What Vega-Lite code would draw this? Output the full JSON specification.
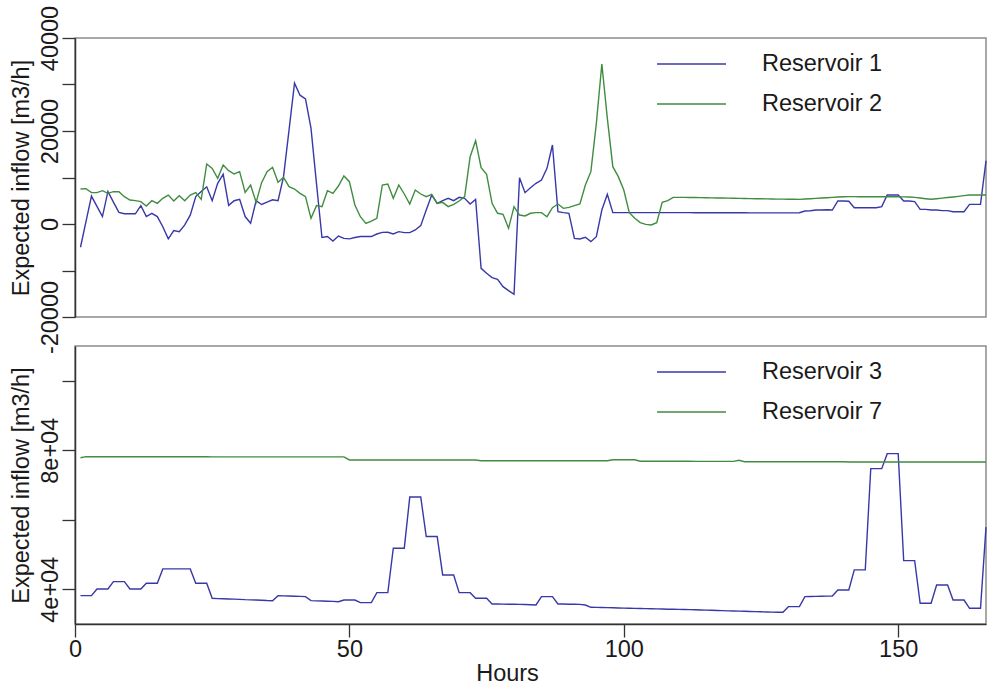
{
"$schema": "https://vega.github.io/schema/vega-lite/v6.json",
"background": "white",
"padding": {"left": 8, "top": 4, "right": 0, "bottom": 0},
"config": {
  "font": "Liberation Sans",
  "view": {"stroke": "#8c8c8c", "strokeWidth": 1.5},
  "axis": {"grid": false, "domainColor": "#333333", "tickColor": "#333333", "domainWidth": 1.5, "tickWidth": 1.3, "tickSize": 13, "labelFontSize": 23.5, "titleFontSize": 23.5, "labelColor": "#1a1a1a", "titleColor": "#1a1a1a", "titleFontWeight": "normal", "labelOverlap": false},
  "legend": {"orient": "none", "legendX": 581, "legendY": 6, "title": null, "symbolType": "stroke", "symbolSize": 4761, "symbolStrokeWidth": 1.4, "labelFontSize": 23.5, "labelOffset": 35, "labelColor": "#1a1a1a", "padding": 0, "rowPadding": 0, "clipHeight": 40, "labelLimit": 400}
},
"datasets": {
"r1": [{"h":1,"v":-5000},{"h":2,"v":500},{"h":3,"v":6000},{"h":4,"v":3800},{"h":5,"v":1600},{"h":6,"v":7000},{"h":7,"v":4700},{"h":8,"v":2500},{"h":9,"v":2200},{"h":10,"v":2200},{"h":11,"v":2200},{"h":12,"v":3950},{"h":13,"v":1600},{"h":14,"v":2300},{"h":15,"v":1600},{"h":16,"v":-600},{"h":17,"v":-3200},{"h":18,"v":-1400},{"h":19,"v":-1650},{"h":20,"v":-200},{"h":21,"v":1900},{"h":22,"v":5900},{"h":23,"v":7000},{"h":24,"v":8000},{"h":25,"v":5000},{"h":26,"v":8750},{"h":27,"v":10700},{"h":28,"v":4000},{"h":29,"v":5000},{"h":30,"v":5300},{"h":31,"v":1600},{"h":32,"v":150},{"h":33,"v":5000},{"h":34,"v":4200},{"h":35,"v":4700},{"h":36,"v":5200},{"h":37,"v":5000},{"h":38,"v":10200},{"h":39,"v":20200},{"h":40,"v":30300},{"h":41,"v":27700},{"h":42,"v":26900},{"h":43,"v":20600},{"h":44,"v":8750},{"h":45,"v":-2900},{"h":46,"v":-2700},{"h":47,"v":-3650},{"h":48,"v":-2600},{"h":49,"v":-3100},{"h":50,"v":-3200},{"h":51,"v":-2900},{"h":52,"v":-2700},{"h":53,"v":-2700},{"h":54,"v":-2700},{"h":55,"v":-2150},{"h":56,"v":-1800},{"h":57,"v":-1790},{"h":58,"v":-2150},{"h":59,"v":-1650},{"h":60,"v":-1860},{"h":61,"v":-1860},{"h":62,"v":-1290},{"h":63,"v":-360},{"h":64,"v":3000},{"h":65,"v":6230},{"h":66,"v":4440},{"h":67,"v":5020},{"h":68,"v":5520},{"h":69,"v":5020},{"h":70,"v":5730},{"h":71,"v":5520},{"h":72,"v":4300},{"h":73,"v":5300},{"h":74,"v":-9530},{"h":75,"v":-10600},{"h":76,"v":-11540},{"h":77,"v":-11900},{"h":78,"v":-13480},{"h":79,"v":-14340},{"h":80,"v":-15120},{"h":81,"v":9960},{"h":82,"v":6740},{"h":83,"v":7800},{"h":84,"v":8750},{"h":85,"v":9460},{"h":86,"v":11970},{"h":87,"v":16990},{"h":88,"v":2650},{"h":89,"v":2440},{"h":90,"v":2300},{"h":91,"v":-3080},{"h":92,"v":-3220},{"h":93,"v":-2860},{"h":94,"v":-3800},{"h":95,"v":-2720},{"h":96,"v":3000},{"h":97,"v":6370},{"h":98,"v":2440},{"h":99,"v":2440},{"h":100,"v":2440},{"h":101,"v":2440},{"h":102,"v":2440},{"h":103,"v":2440},{"h":104,"v":2440},{"h":105,"v":2440},{"h":106,"v":2440},{"h":107,"v":2440},{"h":108,"v":2440},{"h":109,"v":2440},{"h":110,"v":2440},{"h":111,"v":2440},{"h":112,"v":2440},{"h":113,"v":2430},{"h":114,"v":2430},{"h":115,"v":2430},{"h":116,"v":2420},{"h":117,"v":2420},{"h":118,"v":2420},{"h":119,"v":2420},{"h":120,"v":2410},{"h":121,"v":2410},{"h":122,"v":2410},{"h":123,"v":2400},{"h":124,"v":2400},{"h":125,"v":2400},{"h":126,"v":2400},{"h":127,"v":2400},{"h":128,"v":2400},{"h":129,"v":2400},{"h":130,"v":2400},{"h":131,"v":2400},{"h":132,"v":2420},{"h":133,"v":2800},{"h":134,"v":2850},{"h":135,"v":3010},{"h":136,"v":3010},{"h":137,"v":3050},{"h":138,"v":3000},{"h":139,"v":4950},{"h":140,"v":4950},{"h":141,"v":4900},{"h":142,"v":3510},{"h":143,"v":3510},{"h":144,"v":3510},{"h":145,"v":3510},{"h":146,"v":3510},{"h":147,"v":3730},{"h":148,"v":6230},{"h":149,"v":6230},{"h":150,"v":6230},{"h":151,"v":4950},{"h":152,"v":4950},{"h":153,"v":4800},{"h":154,"v":3150},{"h":155,"v":3150},{"h":156,"v":3010},{"h":157,"v":3010},{"h":158,"v":2870},{"h":159,"v":2870},{"h":160,"v":2650},{"h":161,"v":2650},{"h":162,"v":2650},{"h":163,"v":4230},{"h":164,"v":4230},{"h":165,"v":4230},{"h":166,"v":13610}],
"r2": [{"h":1,"v":7520},{"h":2,"v":7600},{"h":3,"v":6740},{"h":4,"v":6740},{"h":5,"v":7170},{"h":6,"v":6600},{"h":7,"v":6950},{"h":8,"v":6950},{"h":9,"v":5880},{"h":10,"v":5160},{"h":11,"v":5020},{"h":12,"v":4800},{"h":13,"v":3870},{"h":14,"v":5020},{"h":15,"v":4440},{"h":16,"v":5520},{"h":17,"v":6230},{"h":18,"v":4950},{"h":19,"v":6090},{"h":20,"v":5020},{"h":21,"v":6230},{"h":22,"v":6740},{"h":23,"v":5300},{"h":24,"v":12900},{"h":25,"v":11970},{"h":26,"v":9820},{"h":27,"v":12690},{"h":28,"v":11470},{"h":29,"v":10750},{"h":30,"v":11250},{"h":31,"v":6810},{"h":32,"v":8390},{"h":33,"v":4660},{"h":34,"v":8890},{"h":35,"v":11250},{"h":36,"v":12190},{"h":37,"v":8960},{"h":38,"v":10040},{"h":39,"v":8020},{"h":40,"v":7520},{"h":41,"v":6600},{"h":42,"v":5880},{"h":43,"v":1220},{"h":44,"v":3950},{"h":45,"v":3730},{"h":46,"v":7170},{"h":47,"v":6600},{"h":48,"v":8170},{"h":49,"v":10320},{"h":50,"v":9100},{"h":51,"v":4090},{"h":52,"v":1570},{"h":53,"v":140},{"h":54,"v":640},{"h":55,"v":1220},{"h":56,"v":8390},{"h":57,"v":8600},{"h":58,"v":5520},{"h":59,"v":8390},{"h":60,"v":6450},{"h":61,"v":4300},{"h":62,"v":7310},{"h":63,"v":6450},{"h":64,"v":5880},{"h":65,"v":6380},{"h":66,"v":4440},{"h":67,"v":4660},{"h":68,"v":3730},{"h":69,"v":4230},{"h":70,"v":4950},{"h":71,"v":5880},{"h":72,"v":14480},{"h":73,"v":17920},{"h":74,"v":12120},{"h":75,"v":10680},{"h":76,"v":4440},{"h":77,"v":2300},{"h":78,"v":2080},{"h":79,"v":-930},{"h":80,"v":3730},{"h":81,"v":1930},{"h":82,"v":1720},{"h":83,"v":2300},{"h":84,"v":2440},{"h":85,"v":2440},{"h":86,"v":1570},{"h":87,"v":3510},{"h":88,"v":4300},{"h":89,"v":3370},{"h":90,"v":3580},{"h":91,"v":3950},{"h":92,"v":4300},{"h":93,"v":8390},{"h":94,"v":11250},{"h":95,"v":21640},{"h":96,"v":34400},{"h":97,"v":22700},{"h":98,"v":12330},{"h":99,"v":10180},{"h":100,"v":7310},{"h":101,"v":2440},{"h":102,"v":1220},{"h":103,"v":290},{"h":104,"v":-70},{"h":105,"v":-215},{"h":106,"v":290},{"h":107,"v":4660},{"h":108,"v":5020},{"h":109,"v":5730},{"h":110,"v":5730},{"h":111,"v":5720},{"h":112,"v":5710},{"h":113,"v":5690},{"h":114,"v":5670},{"h":115,"v":5650},{"h":116,"v":5620},{"h":117,"v":5600},{"h":118,"v":5580},{"h":119,"v":5560},{"h":120,"v":5540},{"h":121,"v":5510},{"h":122,"v":5490},{"h":123,"v":5460},{"h":124,"v":5440},{"h":125,"v":5420},{"h":126,"v":5400},{"h":127,"v":5380},{"h":128,"v":5360},{"h":129,"v":5340},{"h":130,"v":5320},{"h":131,"v":5310},{"h":132,"v":5300},{"h":133,"v":5370},{"h":134,"v":5440},{"h":135,"v":5520},{"h":136,"v":5590},{"h":137,"v":5660},{"h":138,"v":5730},{"h":139,"v":5800},{"h":140,"v":5870},{"h":141,"v":5880},{"h":142,"v":5880},{"h":143,"v":5870},{"h":144,"v":5870},{"h":145,"v":5870},{"h":146,"v":5860},{"h":147,"v":5860},{"h":148,"v":5860},{"h":149,"v":5850},{"h":150,"v":5850},{"h":151,"v":5840},{"h":152,"v":5820},{"h":153,"v":5730},{"h":154,"v":5580},{"h":155,"v":5440},{"h":156,"v":5320},{"h":157,"v":5430},{"h":158,"v":5560},{"h":159,"v":5690},{"h":160,"v":5820},{"h":161,"v":5950},{"h":162,"v":6100},{"h":163,"v":6230},{"h":164,"v":6230},{"h":165,"v":6230},{"h":166,"v":6250}],
"r3": [{"h":1,"v":38160},{"h":2,"v":38160},{"h":3,"v":38160},{"h":4,"v":40090},{"h":5,"v":40090},{"h":6,"v":40090},{"h":7,"v":42200},{"h":8,"v":42200},{"h":9,"v":42200},{"h":10,"v":40090},{"h":11,"v":40090},{"h":12,"v":40090},{"h":13,"v":41730},{"h":14,"v":41730},{"h":15,"v":41730},{"h":16,"v":45850},{"h":17,"v":45850},{"h":18,"v":45850},{"h":19,"v":45850},{"h":20,"v":45850},{"h":21,"v":45850},{"h":22,"v":41730},{"h":23,"v":41730},{"h":24,"v":41730},{"h":25,"v":37400},{"h":26,"v":37300},{"h":27,"v":37250},{"h":28,"v":37200},{"h":29,"v":37150},{"h":30,"v":37100},{"h":31,"v":37000},{"h":32,"v":36950},{"h":33,"v":36900},{"h":34,"v":36850},{"h":35,"v":36750},{"h":36,"v":36710},{"h":37,"v":38160},{"h":38,"v":38100},{"h":39,"v":38050},{"h":40,"v":38000},{"h":41,"v":37950},{"h":42,"v":37870},{"h":43,"v":36710},{"h":44,"v":36650},{"h":45,"v":36600},{"h":46,"v":36550},{"h":47,"v":36500},{"h":48,"v":36420},{"h":49,"v":36900},{"h":50,"v":36900},{"h":51,"v":36900},{"h":52,"v":36140},{"h":53,"v":36140},{"h":54,"v":36140},{"h":55,"v":39020},{"h":56,"v":39020},{"h":57,"v":39020},{"h":58,"v":51820},{"h":59,"v":51820},{"h":60,"v":51820},{"h":61,"v":66530},{"h":62,"v":66530},{"h":63,"v":66530},{"h":64,"v":55170},{"h":65,"v":55170},{"h":66,"v":55170},{"h":67,"v":44120},{"h":68,"v":44120},{"h":69,"v":44120},{"h":70,"v":39020},{"h":71,"v":39020},{"h":72,"v":39020},{"h":73,"v":37400},{"h":74,"v":37400},{"h":75,"v":37400},{"h":76,"v":35760},{"h":77,"v":35740},{"h":78,"v":35720},{"h":79,"v":35700},{"h":80,"v":35680},{"h":81,"v":35640},{"h":82,"v":35600},{"h":83,"v":35550},{"h":84,"v":35470},{"h":85,"v":37870},{"h":86,"v":37870},{"h":87,"v":37870},{"h":88,"v":35760},{"h":89,"v":35740},{"h":90,"v":35700},{"h":91,"v":35680},{"h":92,"v":35640},{"h":93,"v":35470},{"h":94,"v":34810},{"h":95,"v":34780},{"h":96,"v":34740},{"h":97,"v":34700},{"h":98,"v":34660},{"h":99,"v":34620},{"h":100,"v":34580},{"h":101,"v":34540},{"h":102,"v":34500},{"h":103,"v":34460},{"h":104,"v":34420},{"h":105,"v":34380},{"h":106,"v":34340},{"h":107,"v":34300},{"h":108,"v":34260},{"h":109,"v":34230},{"h":110,"v":34220},{"h":111,"v":34180},{"h":112,"v":34130},{"h":113,"v":34080},{"h":114,"v":34030},{"h":115,"v":33990},{"h":116,"v":33940},{"h":117,"v":33890},{"h":118,"v":33840},{"h":119,"v":33790},{"h":120,"v":33740},{"h":121,"v":33700},{"h":122,"v":33650},{"h":123,"v":33600},{"h":124,"v":33560},{"h":125,"v":33510},{"h":126,"v":33470},{"h":127,"v":33430},{"h":128,"v":33400},{"h":129,"v":33370},{"h":130,"v":34990},{"h":131,"v":34990},{"h":132,"v":34990},{"h":133,"v":37870},{"h":134,"v":37900},{"h":135,"v":37950},{"h":136,"v":37980},{"h":137,"v":38020},{"h":138,"v":38060},{"h":139,"v":39800},{"h":140,"v":39800},{"h":141,"v":39800},{"h":142,"v":45570},{"h":143,"v":45570},{"h":144,"v":45570},{"h":145,"v":74700},{"h":146,"v":74700},{"h":147,"v":74700},{"h":148,"v":79020},{"h":149,"v":79020},{"h":150,"v":79020},{"h":151,"v":48250},{"h":152,"v":48250},{"h":153,"v":48250},{"h":154,"v":35960},{"h":155,"v":35960},{"h":156,"v":35960},{"h":157,"v":41240},{"h":158,"v":41240},{"h":159,"v":41240},{"h":160,"v":36900},{"h":161,"v":36900},{"h":162,"v":36900},{"h":163,"v":34520},{"h":164,"v":34520},{"h":165,"v":34520},{"h":166,"v":57880}],
"r7": [{"h":1,"v":77850},{"h":2,"v":78150},{"h":3,"v":78150},{"h":4,"v":78150},{"h":5,"v":78150},{"h":6,"v":78150},{"h":7,"v":78150},{"h":8,"v":78150},{"h":9,"v":78150},{"h":10,"v":78150},{"h":11,"v":78150},{"h":12,"v":78150},{"h":13,"v":78150},{"h":14,"v":78150},{"h":15,"v":78150},{"h":16,"v":78150},{"h":17,"v":78150},{"h":18,"v":78150},{"h":19,"v":78150},{"h":20,"v":78150},{"h":21,"v":78150},{"h":22,"v":78150},{"h":23,"v":78150},{"h":24,"v":78150},{"h":25,"v":78100},{"h":26,"v":78100},{"h":27,"v":78100},{"h":28,"v":78100},{"h":29,"v":78100},{"h":30,"v":78100},{"h":31,"v":78100},{"h":32,"v":78100},{"h":33,"v":78100},{"h":34,"v":78100},{"h":35,"v":78100},{"h":36,"v":78100},{"h":37,"v":78100},{"h":38,"v":78100},{"h":39,"v":78100},{"h":40,"v":78100},{"h":41,"v":78100},{"h":42,"v":78100},{"h":43,"v":78100},{"h":44,"v":78100},{"h":45,"v":78100},{"h":46,"v":78100},{"h":47,"v":78100},{"h":48,"v":78100},{"h":49,"v":78100},{"h":50,"v":77200},{"h":51,"v":77200},{"h":52,"v":77200},{"h":53,"v":77200},{"h":54,"v":77200},{"h":55,"v":77200},{"h":56,"v":77200},{"h":57,"v":77200},{"h":58,"v":77200},{"h":59,"v":77200},{"h":60,"v":77200},{"h":61,"v":77200},{"h":62,"v":77200},{"h":63,"v":77200},{"h":64,"v":77200},{"h":65,"v":77200},{"h":66,"v":77200},{"h":67,"v":77200},{"h":68,"v":77200},{"h":69,"v":77200},{"h":70,"v":77200},{"h":71,"v":77200},{"h":72,"v":77200},{"h":73,"v":77200},{"h":74,"v":77000},{"h":75,"v":77000},{"h":76,"v":77000},{"h":77,"v":77000},{"h":78,"v":77000},{"h":79,"v":77000},{"h":80,"v":77000},{"h":81,"v":77000},{"h":82,"v":77000},{"h":83,"v":77000},{"h":84,"v":77000},{"h":85,"v":77000},{"h":86,"v":77000},{"h":87,"v":77000},{"h":88,"v":77000},{"h":89,"v":77000},{"h":90,"v":77000},{"h":91,"v":77000},{"h":92,"v":77000},{"h":93,"v":77000},{"h":94,"v":77000},{"h":95,"v":77000},{"h":96,"v":77000},{"h":97,"v":77000},{"h":98,"v":77250},{"h":99,"v":77250},{"h":100,"v":77250},{"h":101,"v":77250},{"h":102,"v":77250},{"h":103,"v":76850},{"h":104,"v":76850},{"h":105,"v":76850},{"h":106,"v":76850},{"h":107,"v":76850},{"h":108,"v":76850},{"h":109,"v":76850},{"h":110,"v":76850},{"h":111,"v":76850},{"h":112,"v":76850},{"h":113,"v":76800},{"h":114,"v":76800},{"h":115,"v":76800},{"h":116,"v":76800},{"h":117,"v":76800},{"h":118,"v":76800},{"h":119,"v":76800},{"h":120,"v":76800},{"h":121,"v":77100},{"h":122,"v":76700},{"h":123,"v":76700},{"h":124,"v":76700},{"h":125,"v":76700},{"h":126,"v":76700},{"h":127,"v":76700},{"h":128,"v":76700},{"h":129,"v":76700},{"h":130,"v":76700},{"h":131,"v":76700},{"h":132,"v":76700},{"h":133,"v":76700},{"h":134,"v":76700},{"h":135,"v":76700},{"h":136,"v":76700},{"h":137,"v":76700},{"h":138,"v":76700},{"h":139,"v":76700},{"h":140,"v":76700},{"h":141,"v":76600},{"h":142,"v":76600},{"h":143,"v":76600},{"h":144,"v":76600},{"h":145,"v":76600},{"h":146,"v":76600},{"h":147,"v":76600},{"h":148,"v":76600},{"h":149,"v":76600},{"h":150,"v":76600},{"h":151,"v":76600},{"h":152,"v":76600},{"h":153,"v":76600},{"h":154,"v":76600},{"h":155,"v":76600},{"h":156,"v":76600},{"h":157,"v":76600},{"h":158,"v":76600},{"h":159,"v":76600},{"h":160,"v":76600},{"h":161,"v":76600},{"h":162,"v":76600},{"h":163,"v":76600},{"h":164,"v":76600},{"h":165,"v":76600},{"h":166,"v":76600}]
},
"spacing": 29,
"bounds": "flush",
"resolve": {"scale": {"color": "independent", "y": "independent"}, "legend": {"color": "independent"}},
"vconcat": [
 {
  "width": 911, "height": 279,
  "layer": [
   {"data": {"name": "r1"}, "mark": {"type": "line", "strokeWidth": 1.4},
    "encoding": {
     "x": {"field": "h", "type": "quantitative", "scale": {"domain": [0, 166], "nice": false, "zero": false}, "axis": null},
     "y": {"field": "v", "type": "quantitative", "scale": {"domain": [-20000, 40000], "nice": false, "zero": false},
       "axis": {"values": [-20000, -10000, 0, 10000, 20000, 30000, 40000], "labelExpr": "datum.value == 40000 ? '40000' : datum.value == 20000 ? '20000' : datum.value == 0 ? '0' : datum.value == -20000 ? '-20000' : ''", "labelAngle": -90, "labelAlign": "center", "labelBaseline": "alphabetic", "labelPadding": 5, "title": "Expected inflow [m3/h]", "titleAngle": -90, "titleAlign": "center", "titleBaseline": "alphabetic", "titleX": -47, "titleY": 139.5}},
     "color": {"datum": "Reservoir 1", "type": "nominal", "scale": {"domain": ["Reservoir 1", "Reservoir 2"], "range": ["#3838a8", "#408c40"]}}
    }},
   {"data": {"name": "r2"}, "mark": {"type": "line", "strokeWidth": 1.4},
    "encoding": {
     "x": {"field": "h", "type": "quantitative"},
     "y": {"field": "v", "type": "quantitative"},
     "color": {"datum": "Reservoir 2", "type": "nominal"}
    }}
  ]
 },
 {
  "width": 911, "height": 278,
  "layer": [
   {"data": {"name": "r3"}, "mark": {"type": "line", "strokeWidth": 1.4},
    "encoding": {
     "x": {"field": "h", "type": "quantitative", "scale": {"domain": [0, 166], "nice": false, "zero": false},
       "axis": {"values": [0, 50, 100, 150], "labelFlush": false, "labelAngle": 0, "labelPadding": 0, "title": "Hours", "titleBaseline": "alphabetic", "titleX": 432, "titleY": 56}},
     "y": {"field": "v", "type": "quantitative", "scale": {"domain": [30000, 110000], "nice": false, "zero": false},
       "axis": {"values": [40000, 60000, 80000, 100000], "labelExpr": "datum.value == 40000 ? '4e+04' : datum.value == 80000 ? '8e+04' : ''", "labelAngle": -90, "labelAlign": "center", "labelBaseline": "alphabetic", "labelPadding": 5, "title": "Expected inflow [m3/h]", "titleAngle": -90, "titleAlign": "center", "titleBaseline": "alphabetic", "titleX": -47, "titleY": 139}},
     "color": {"datum": "Reservoir 3", "type": "nominal", "scale": {"domain": ["Reservoir 3", "Reservoir 7"], "range": ["#3838a8", "#408c40"]}}
    }},
   {"data": {"name": "r7"}, "mark": {"type": "line", "strokeWidth": 1.4},
    "encoding": {
     "x": {"field": "h", "type": "quantitative"},
     "y": {"field": "v", "type": "quantitative"},
     "color": {"datum": "Reservoir 7", "type": "nominal"}
    }}
  ]
 }
]
}
